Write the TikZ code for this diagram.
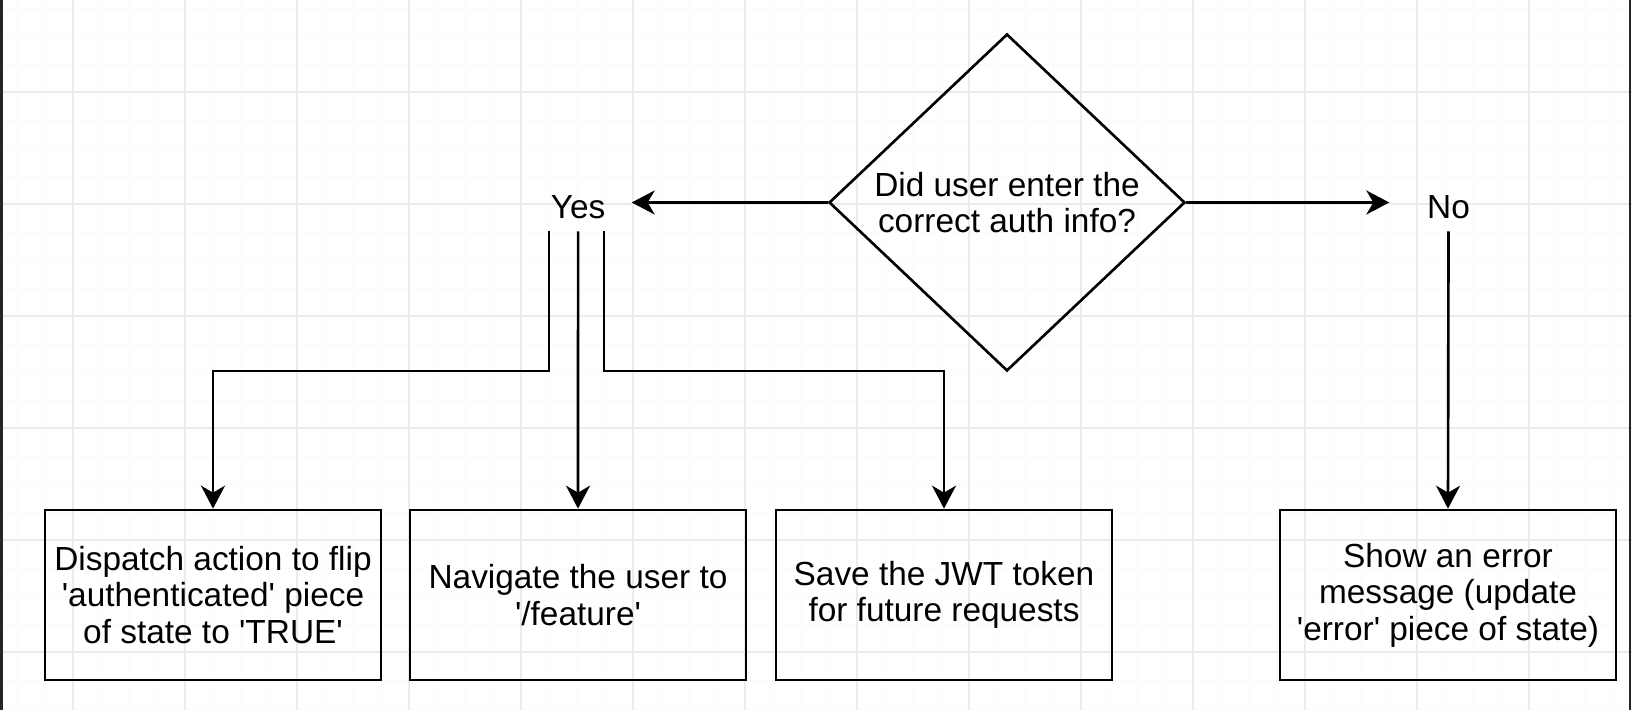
\documentclass[tikz,border=0pt]{standalone}
\usepackage{fontspec}
\setmainfont{Liberation Sans}[Ligatures=TeXOff]
\usepackage{tikz}
\usetikzlibrary{arrows.meta, shapes.geometric, positioning}

\begin{document}
\begin{tikzpicture}[scale=1,
      every node/.style={font=\fontsize{19}{20.7}\selectfont, align=center},
      decision/.style={diamond, draw, line width=1.5pt, inner sep=0pt,
        minimum width=7.12cm, minimum height=6.74cm, aspect=1.06},
      action/.style={rectangle, draw, line width=1.5pt,
        minimum width=6.72cm, minimum height=3.4cm},
      answer/.style={inner xsep=0.52cm, inner ysep=0.24cm, yshift=-0.1cm},
      flow/.style={line width=1.5pt, -{Stealth[length=0.46cm, width=0.48cm, inset=0.14cm]}},
      gridmajor/.style={black!8, line width=0.8pt},
      gridminor/.style={black!2, line width=0.4pt}]
      \useasboundingbox (0,0) rectangle (32.64,14.2);
      \begin{scope}[shift={(1.46,1.16)}]
        \draw[gridminor, step=0.56] (-1.46,-1.16) grid (31.18,13.04);
        \draw[gridmajor, step=2.24] (-1.46,-1.16) grid (31.18,13.04);
      \end{scope}
      \fill[black!85] (0,0) rectangle (0.06,14.2);
      \fill[black!85] (32.58,0) rectangle (32.62,14.2);

      \node[decision] (auth) at (20.14,10.15) {Did user enter the\\correct auth info?};
      \node[answer, left=3.92cm of auth] (yes) {Yes};
      \node[answer, inner xsep=0.75cm, right=4.06cm of auth] (no) {No};
      \coordinate (fork) at (0,6.78);

      \node[action] (dispatch) at (4.26,2.3) {Dispatch action to flip\\'authenticated' piece\\of state to 'TRUE'};
      \node[action] (navigate) at (11.56,2.3) {Navigate the user to\\'/feature'};
      \node[action] (save) at (18.88,2.3) {Save the JWT token\\for future requests};
      \node[action] (error) at (28.96,2.3) {Show an error\\message (update\\'error' piece of state)};

      \draw[flow] (auth.west) -- (auth.west -| yes.east);
      \draw[flow] (auth.east) -- (auth.east -| no.west);

      \draw[flow] ([xshift=-0.58cm]yes.south) |- (dispatch.north |- fork) -- (dispatch.north);
      \draw[flow] (yes.south) -- (navigate.north);
      \draw[flow] ([xshift=0.52cm]yes.south) |- (save.north |- fork) -- (save.north);
      \draw[flow] (no.south) -- (error.north);
\end{tikzpicture}
\end{document}
